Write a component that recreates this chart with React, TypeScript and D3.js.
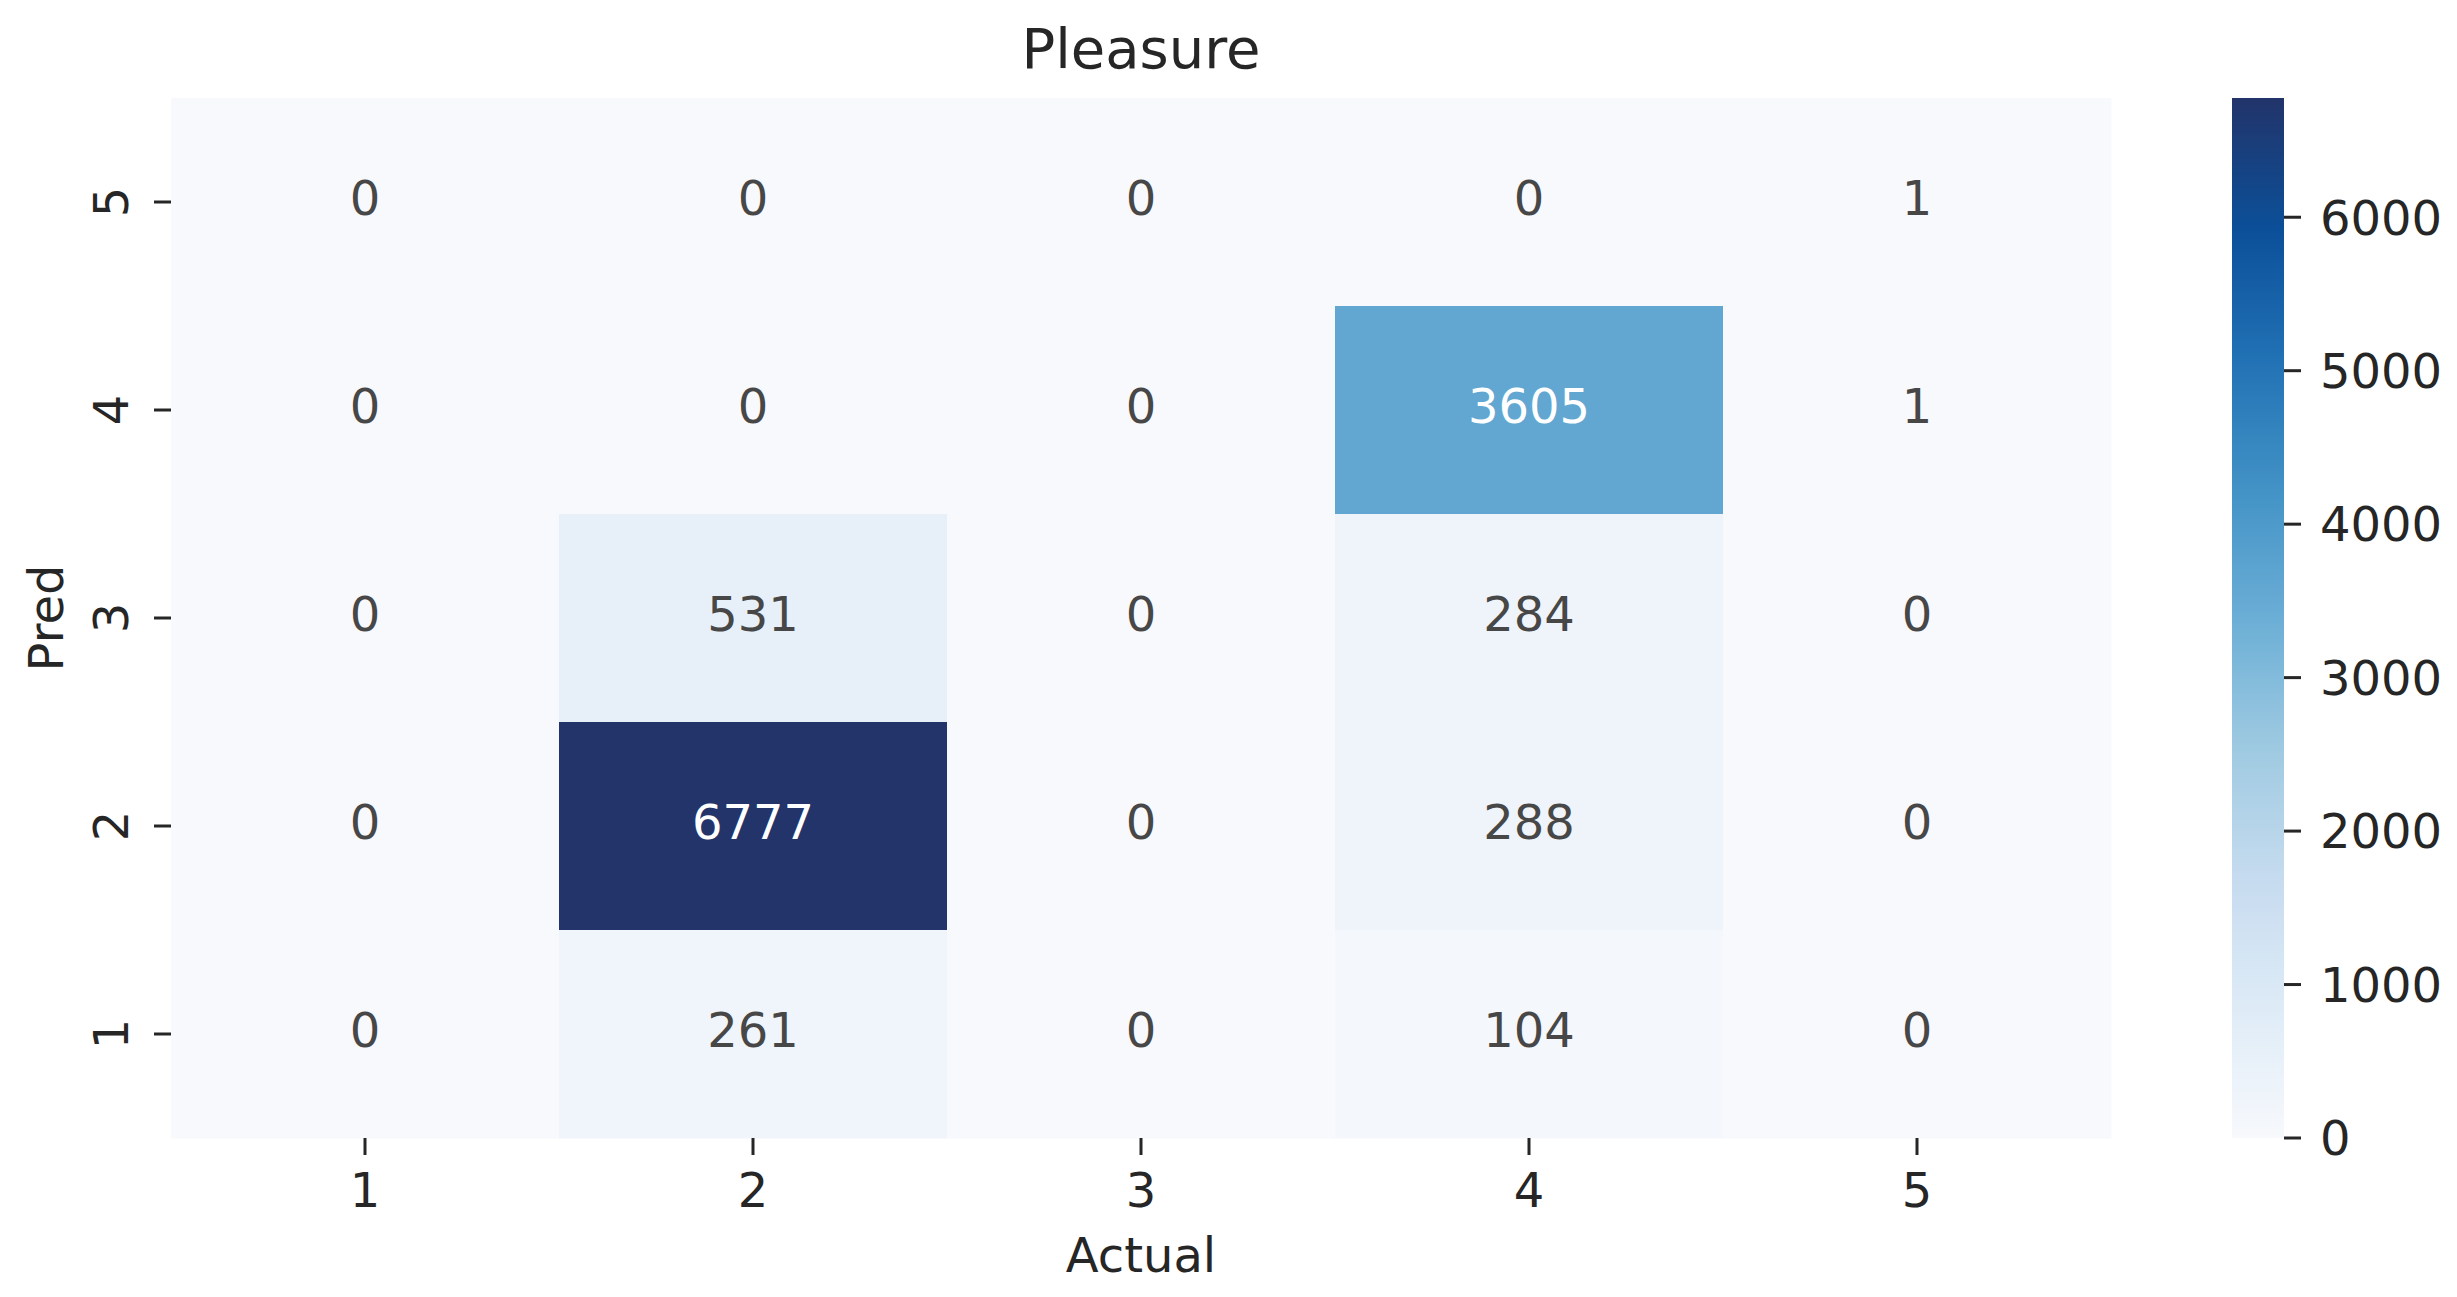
import React from "react";
import * as d3 from "d3";

const actualLabels = ["1", "2", "3", "4", "5"];
const predLabels = ["5", "4", "3", "2", "1"]; // top to bottom
const row5 = [0, 0, 0, 0, 1];
const row4 = [0, 0, 0, 3605, 1];
const row3 = [0, 531, 0, 284, 0];
const row2 = [0, 6777, 0, 288, 0];
const row1 = [0, 261, 0, 104, 0];
const matrix = [row5, row4, row3, row2, row1];
const cbarTicks = [0, 1000, 2000, 3000, 4000, 5000, 6000];
const title = "Pleasure";
const xTitle = "Actual";
const yTitle = "Pred";

const blues = ["#f7f9fc", "#deebf7", "#c6dbef", "#9ecae1", "#6baed6", "#4292c6", "#2171b5", "#0b4f98", "#22346a"];

const W = 2457;
const H = 1297;
const left = 171;
const right = 2111;
const top = 98;
const bottom = 1138;
const cbLeft = 2232;
const cbRight = 2284;
const FONT = "'DejaVu Sans', sans-serif";
const FS = 48;
const TXT = "#262626";

export default function App() {
  const vmax = d3.max(matrix.flat()) as number;
  const x = d3.scaleBand<string>().domain(actualLabels).range([left, right]);
  const y = d3.scaleBand<string>().domain(predLabels).range([top, bottom]);
  const stopDomain = blues.map((_, i) => (i / (blues.length - 1)) * vmax);
  const color = d3.scaleLinear<string>().domain(stopDomain).range(blues).interpolate(d3.interpolateRgb);
  const cb = d3.scaleLinear().domain([0, vmax]).range([bottom, top]);

  const lum = (c: string) => {
    const rgb = d3.rgb(c);
    const f = (v: number) => {
      const s = v / 255;
      return s <= 0.03928 ? s / 12.92 : Math.pow((s + 0.055) / 1.055, 2.4);
    };
    return 0.2126 * f(rgb.r) + 0.7152 * f(rgb.g) + 0.0722 * f(rgb.b);
  };

  const gradStops = d3.range(0, 41).map((i) => i / 40);

  return (
    <svg width={W} height={H} style={{ position: "absolute", left: 0, top: 0, display: "block", background: "#fff" }} fontFamily={FONT}>
      <defs>
        <linearGradient id="cbg" x1="0" y1="1" x2="0" y2="0">
          {gradStops.map((t) => (
            <stop key={t} offset={t} stopColor={color(t * vmax)} />
          ))}
        </linearGradient>
      </defs>
      <rect x={0} y={0} width={W} height={H} fill="#fff" />
      {matrix.map((row, ri) =>
        row.map((v, ci) => {
          const c = color(v);
          const cx = (x(actualLabels[ci]) as number) + x.bandwidth() / 2;
          const cy = (y(predLabels[ri]) as number) + y.bandwidth() / 2;
          return (
            <g key={`${ri}-${ci}`}>
              <rect
                x={x(actualLabels[ci])}
                y={y(predLabels[ri])}
                width={x.bandwidth() + 0.5}
                height={y.bandwidth() + 0.5}
                fill={c}
              />
              <text x={cx} y={cy + FS * 0.27} textAnchor="middle" fontSize={FS} fill={lum(c) < 0.408 ? "#ffffff" : "#474747"}>
                {v}
              </text>
            </g>
          );
        })
      )}
      {/* x axis */}
      {actualLabels.map((l) => {
        const cx = (x(l) as number) + x.bandwidth() / 2;
        return (
          <g key={"x" + l}>
            <line x1={cx} x2={cx} y1={bottom} y2={bottom + 17} stroke={TXT} strokeWidth={3} />
            <text x={cx} y={1207} textAnchor="middle" fontSize={FS} fill={TXT}>
              {l}
            </text>
          </g>
        );
      })}
      <text x={(left + right) / 2} y={1272} textAnchor="middle" fontSize={FS} fill={TXT}>
        {xTitle}
      </text>
      {/* y axis */}
      {predLabels.map((l) => {
        const cy = (y(l) as number) + y.bandwidth() / 2;
        return (
          <g key={"y" + l}>
            <line x1={left - 17} x2={left} y1={cy} y2={cy} stroke={TXT} strokeWidth={3} />
            <text transform={`translate(128,${cy}) rotate(-90)`} textAnchor="middle" fontSize={FS} fill={TXT}>
              {l}
            </text>
          </g>
        );
      })}
      <text transform={`translate(63,${(top + bottom) / 2}) rotate(-90)`} textAnchor="middle" fontSize={FS} fill={TXT}>
        {yTitle}
      </text>
      {/* title */}
      <text x={(left + right) / 2} y={68} textAnchor="middle" fontSize={56} fill={TXT}>
        {title}
      </text>
      {/* colorbar */}
      <rect x={cbLeft} y={top} width={cbRight - cbLeft} height={bottom - top} fill="url(#cbg)" />
      {cbarTicks.map((t) => (
        <g key={"c" + t}>
          <line x1={cbRight} x2={cbRight + 17} y1={cb(t)} y2={cb(t)} stroke={TXT} strokeWidth={3} />
          <text x={2320} y={cb(t) + FS * 0.36} fontSize={FS} fill={TXT}>
            {t}
          </text>
        </g>
      ))}
    </svg>
  );
}
